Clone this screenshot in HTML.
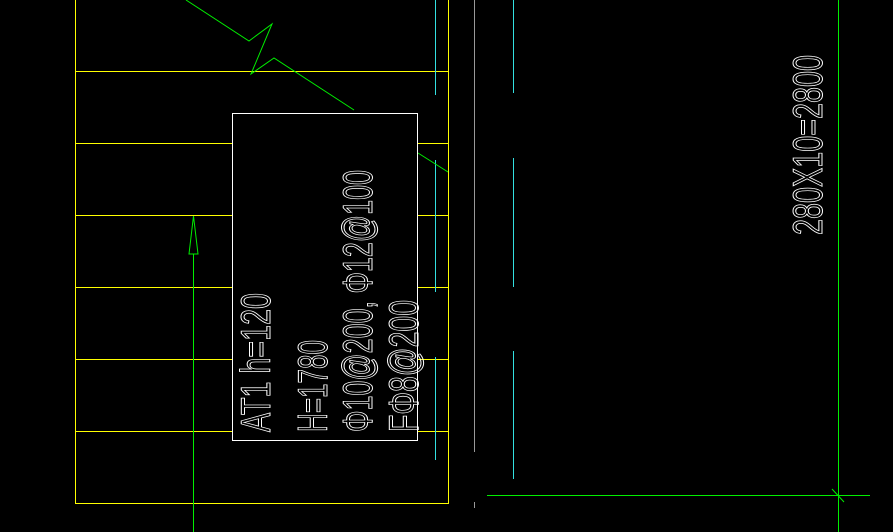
<!DOCTYPE html>
<html><head><meta charset="utf-8"><style>
html,body{margin:0;padding:0;background:#000;width:893px;height:532px;overflow:hidden}
svg{display:block}
text{font-family:"Liberation Sans Narrow","Liberation Sans",sans-serif;fill:none;stroke:#fff;stroke-width:1}
</style></head><body>
<svg width="893" height="532" viewBox="0 0 893 532" xmlns="http://www.w3.org/2000/svg" shape-rendering="crispEdges">
<rect width="893" height="532" fill="#000"/>
<!-- yellow stair outline -->
<g stroke="#ffff00" stroke-width="1" fill="none">
<line x1="75.5" y1="0" x2="75.5" y2="503.5"/>
<line x1="448.5" y1="0" x2="448.5" y2="503.5"/>
<line x1="75" y1="503.5" x2="449" y2="503.5"/>
<line x1="75" y1="71.5" x2="448" y2="71.5"/>
<line x1="75" y1="143.5" x2="448" y2="143.5"/>
<line x1="75" y1="215.5" x2="448" y2="215.5"/>
<line x1="75" y1="287.5" x2="448" y2="287.5"/>
<line x1="75" y1="359.5" x2="448" y2="359.5"/>
<line x1="75" y1="431.5" x2="448" y2="431.5"/>
</g>
<!-- cyan lines -->
<g stroke="#33e0e0" stroke-width="1">
<line x1="435.5" y1="0" x2="435.5" y2="95"/>
<line x1="435.5" y1="160" x2="435.5" y2="292"/>
<line x1="435.5" y1="357" x2="435.5" y2="460"/>
<line x1="513.5" y1="0" x2="513.5" y2="93"/>
<line x1="513.5" y1="158" x2="513.5" y2="287"/>
<line x1="513.5" y1="351" x2="513.5" y2="479"/>
</g>
<g stroke="#999" stroke-width="1">
<line x1="474.5" y1="0" x2="474.5" y2="452"/>
<line x1="474.5" y1="502" x2="474.5" y2="508"/>
</g>
<!-- green -->
<g stroke="#00ee00" stroke-width="1" fill="none" shape-rendering="auto">
<polyline points="186,0 249,41 272,24 251,74 274,58 354,110"/>
<line x1="418" y1="153" x2="448" y2="172"/>
<line x1="193.5" y1="254" x2="193.5" y2="532"/>
<polygon points="193.5,216 198,254 189,254"/>
<line x1="838.5" y1="0" x2="838.5" y2="532"/>
<line x1="487" y1="495.5" x2="870" y2="495.5"/>
<line x1="832" y1="489" x2="844" y2="502"/>
</g>
<!-- box -->
<rect x="232.5" y="113.5" width="185" height="327" fill="#000" stroke="#fff" stroke-width="1"/>
<text transform="translate(270,432) rotate(-90)" font-size="42" textLength="139" lengthAdjust="spacingAndGlyphs">AT1 h=120</text>
<text transform="translate(327,432) rotate(-90)" font-size="42" textLength="92" lengthAdjust="spacingAndGlyphs">H=1780</text>
<text transform="translate(372,432) rotate(-90)" font-size="42" textLength="262" lengthAdjust="spacingAndGlyphs">Φ10@200, Φ12@100</text>
<text transform="translate(418,432) rotate(-90)" font-size="42" textLength="132" lengthAdjust="spacingAndGlyphs">FΦ8@200</text>
<text transform="translate(822,235) rotate(-90)" font-size="42" textLength="180" lengthAdjust="spacingAndGlyphs">280X10=2800</text>
</svg>
</body></html>
